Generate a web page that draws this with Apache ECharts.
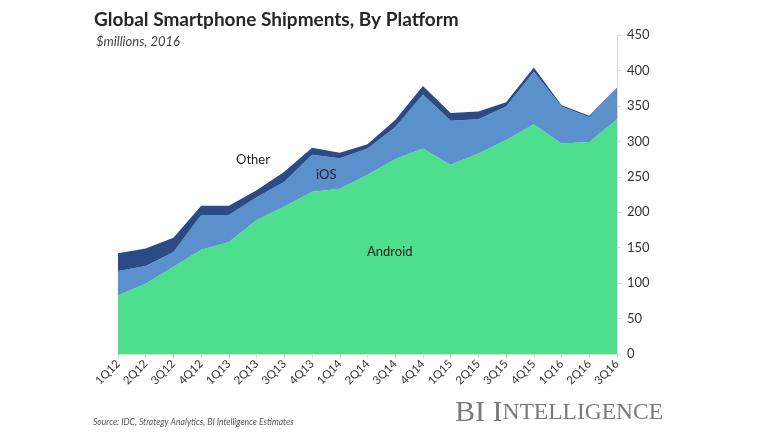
<!DOCTYPE html>
<html>
<head>
<meta charset="utf-8">
<script src="https://cdn.jsdelivr.net/npm/echarts@6/dist/echarts.min.js"></script>
<style>html,body{margin:0;padding:0;background:#fff;}#c{width:768px;height:432px;}</style>
</head>
<body>
<div id="c"></div>
<script>
const categories = ['1Q12','2Q12','3Q12','4Q12','1Q13','2Q13','3Q13','4Q13','1Q14','2Q14','3Q14','4Q14','1Q15','2Q15','3Q15','4Q15','1Q16','2Q16','3Q16'];
const android = [83, 99, 123, 147, 158, 189, 208, 229, 233, 253, 275, 290, 267, 283, 302, 324, 297, 299, 331];
const ios     = [34, 25, 21, 49, 38, 32, 35, 52, 43, 37, 45, 76, 62, 48, 47, 74, 52, 35, 45];
const other   = [25, 25, 20, 13, 13, 10, 14, 10, 8, 6, 10, 12, 11, 11, 6, 6, 2, 2, 0];
const yTicks = [0, 50, 100, 150, 200, 250, 300, 350, 400, 450];

const chart = echarts.init(document.getElementById('c'));
const FONT = 'Lato';
function areaSeries(name, data, color) {
  return {
    name, type: 'line', stack: 'total', data,
    symbol: 'none', lineStyle: {width: 0}, areaStyle: {color, opacity: 1},
    itemStyle: {color}, silent: true
  };
}
chart.setOption({
  animation: false,
  textStyle: {fontFamily: FONT},
  grid: {left: 118, right: 151, top: 35, bottom: 78},
  title: [
    {text: 'Global Smartphone Shipments, By Platform', left: 89, top: 5,
     textStyle: {fontFamily: FONT, fontWeight: 'bold', fontSize: 19, color: '#262626'}},
    {text: '$millions, 2016', left: 91, top: 30,
     textStyle: {fontFamily: FONT, fontStyle: 'italic', fontWeight: 'normal', fontSize: 13, color: '#404040'}}
  ],
  xAxis: {
    type: 'category', data: categories, boundaryGap: false,
    axisLine: {lineStyle: {color: '#d9d9d9'}},
    axisTick: {show: true, length: 4, lineStyle: {color: '#d9d9d9'}},
    axisLabel: {rotate: 45, fontSize: 11.5, color: '#333', margin: 8, fontFamily: FONT}
  },
  yAxis: {
    type: 'value', position: 'right', min: 0, max: 450, interval: 50,
    axisLine: {show: true, lineStyle: {color: '#d9d9d9'}},
    axisTick: {show: true, length: 4, lineStyle: {color: '#d9d9d9'}},
    splitLine: {show: false},
    axisLabel: {fontSize: 13, color: '#333', margin: 10, fontFamily: FONT,
      formatter: v => yTicks.includes(v) ? String(v) : ''}
  },
  series: [
    areaSeries('Android', android, '#4ddf8e'),
    areaSeries('iOS', ios, '#5a90cc'),
    areaSeries('Other', other, '#2b4b86')
  ],
  graphic: [
    {type: 'text', z: 100, left: 236, top: 153, style: {text: 'Other', fontFamily: FONT, fontSize: 13, fill: '#222'}},
    {type: 'text', z: 100, left: 316, top: 168, style: {text: 'iOS', fontFamily: FONT, fontSize: 13, fill: '#222'}},
    {type: 'text', z: 100, left: 367, top: 245, style: {text: 'Android', fontFamily: FONT, fontSize: 13, fill: '#222'}},
    {type: 'text', z: 100, left: 93, top: 418, style: {text: 'Source: IDC, Strategy Analytics, BI Intelligence Estimates', fontFamily: FONT, fontStyle: 'italic', fontSize: 8.6, fill: '#555'}},
    {type: 'text', z: 100, left: 455, top: 398, style: {
      text: '{a|BI I}{b|NTELLIGENCE}',
      rich: {
        a: {fontFamily: 'Liberation Serif', fontSize: 30, fill: '#7a7a7a', color: '#7a7a7a'},
        b: {fontFamily: 'Liberation Serif', fontSize: 23.5, fill: '#7a7a7a', color: '#7a7a7a'}
      }
    }}
  ]
});
</script>
</body>
</html>
